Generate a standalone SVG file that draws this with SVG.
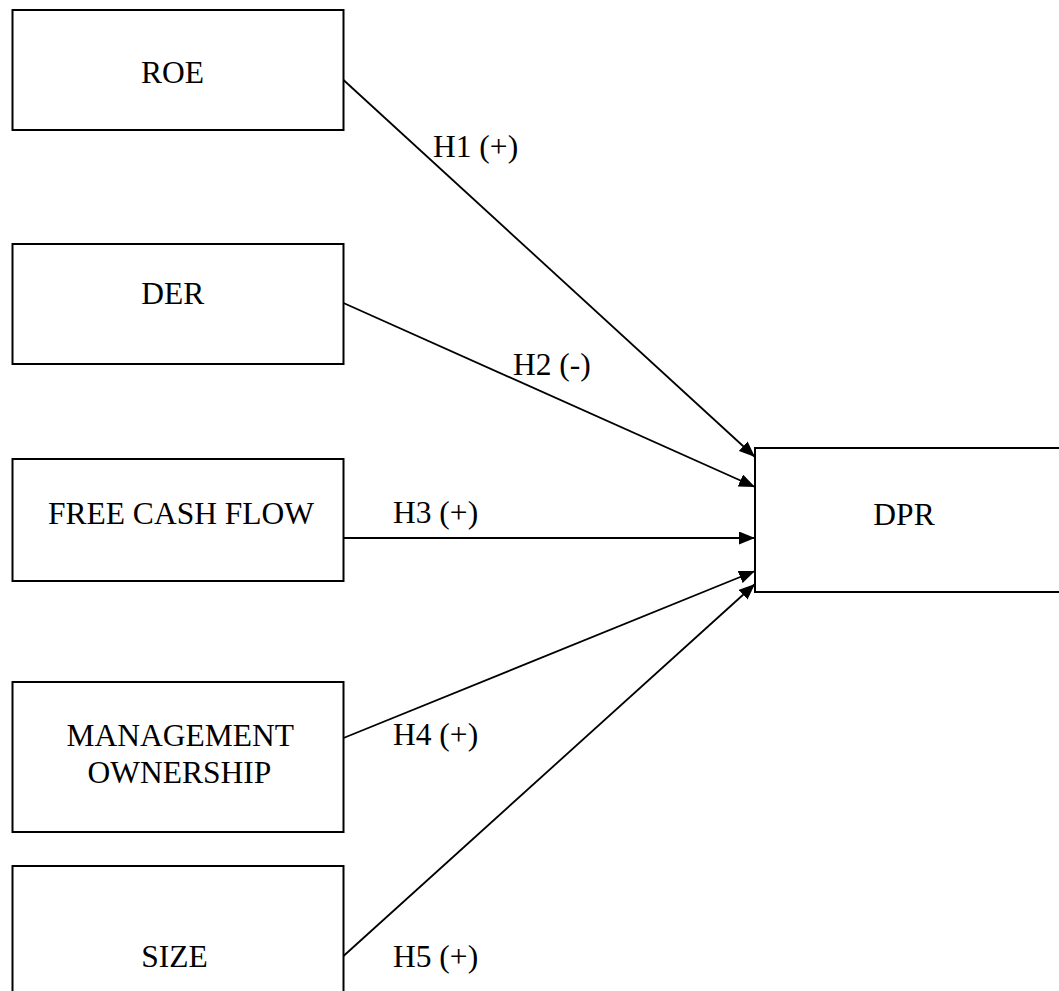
<svg xmlns="http://www.w3.org/2000/svg" width="1059" height="991" viewBox="0 0 1059 991">
<style>
.box{fill:#fff;stroke:#000;stroke-width:2}
.t{font-family:"Liberation Serif","Times New Roman",serif;font-size:31.5px;fill:#000}
.c{text-anchor:middle}
.edge{stroke:#000;stroke-width:1.8;fill:none;marker-end:url(#ah)}
</style>
<defs>
<marker id="ah" markerUnits="userSpaceOnUse" markerWidth="16" markerHeight="13" refX="16" refY="6.5" orient="auto">
<path d="M0,0 L16,6.5 L0,13 z" fill="#000"/>
</marker>
</defs>
<rect width="1059" height="991" fill="#fff"/>
<g id="roe"><rect class="box" x="12.5" y="10" width="331" height="120"/><text class="t c" x="172.5" y="83">ROE</text></g>
<g id="der"><rect class="box" x="12.5" y="244" width="331" height="120"/><text class="t c" x="172.7" y="304">DER</text></g>
<g id="fcf"><rect class="box" x="12.5" y="459" width="331" height="122"/><text class="t c" x="181" y="524">FREE CASH FLOW</text></g>
<g id="mgmt"><rect class="box" x="12.5" y="682" width="331" height="150"/><text class="t c" x="180.3" y="746">MANAGEMENT</text><text class="t c" x="179.3" y="783">OWNERSHIP</text></g>
<g id="size"><rect class="box" x="12.5" y="866" width="331" height="140"/><text class="t c" x="174.5" y="967">SIZE</text></g>
<g id="dpr"><rect class="box" x="755" y="448" width="320" height="144"/><text class="t c" x="904" y="525">DPR</text></g>
<g id="connectors">
<line class="edge" x1="343.5" y1="80" x2="755" y2="457"/>
<line class="edge" x1="343.5" y1="303" x2="755" y2="487"/>
<line class="edge" x1="343.5" y1="538" x2="755" y2="538"/>
<line class="edge" x1="343.5" y1="738" x2="755" y2="571"/>
<line class="edge" x1="343.5" y1="956" x2="755" y2="584"/>
<text class="t" x="433" y="157">H1 (+)</text>
<text class="t" x="513" y="375">H2 (-)</text>
<text class="t" x="393" y="523">H3 (+)</text>
<text class="t" x="393" y="745">H4 (+)</text>
<text class="t" x="393" y="967">H5 (+)</text>
</g>
</svg>
